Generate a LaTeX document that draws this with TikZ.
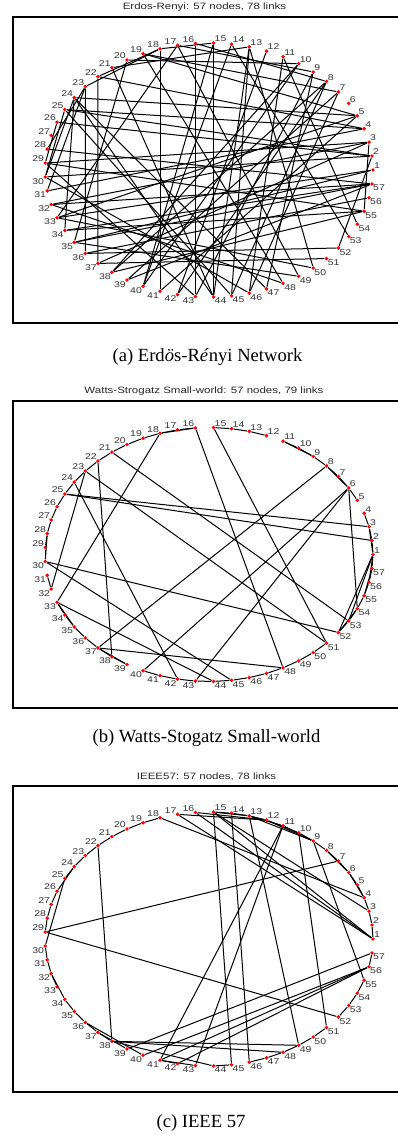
\documentclass[tikz,border=0pt]{standalone}
\usepackage{fontspec}
\setmainfont{Liberation Serif}
\newfontfamily\plotfont[FakeStretch=1.25]{Liberation Sans}
\usetikzlibrary{backgrounds}
\tikzset{
  dot/.style={circle,fill=red,inner sep=0pt,minimum size=3.9pt},
  num/.style={font=\plotfont\fontsize{8.4}{9}\selectfont,text=black!80,inner sep=1pt},
  link/.style={draw=black,line width=1pt},
  frame/.style={draw=black,line width=1.1pt},
  plottitle/.style={font=\plotfont\fontsize{9.2}{10}\selectfont,text=black!85},
  subcap/.style={font=\fontsize{18.6}{20}\selectfont},
}
\begin{document}
\begin{tikzpicture}[x=1pt,y=1pt]
  \useasboundingbox (0,0) rectangle (398,1135);
  % three rings of 57 buses
  \foreach \p/\cy in {a/965,b/580.5,c/196}{
    \foreach \k in {1,...,57}{
      \pgfmathsetmacro\ang{360/57*(\k-1)}
      \pgfmathtruncatemacro\q{2*(cos(\ang)<0)+(sin(\ang)<-0.01)}
      \ifcase\q\def\anc{south west}\or\def\anc{north west}\or\def\anc{south east}\else\def\anc{north east}\fi
      \node[dot] (\p\k) at ({209+164*cos(\ang)},{\cy+127*sin(\ang)}) {};
      \node[num,anchor=\anc] (\p n\k) at (\p\k.center) {\k};
    }
  }
  \begin{scope}[on background layer]
    % (a) random graph
    \foreach \u/\v in {18/41,16/43,14/53,11/46,7/46,20/10,23/36,22/37,24/34,17/49,9/47,37/51,36/52,24/5,25/4,
      18/23,18/22,18/15,21/13,22/4,16/8,17/9,19/48,15/44,13/45,12/42,10/40,8/38,7/39,5/33,4/31,3/29,2/30,
      1/35,57/32,57/28,25/2,55/34,55/38,54/11,55/29,50/33,49/35,48/32,45/25,44/24,42/8,41/5,40/14,39/57,
      38/10,35/57,33/1,31/23,30/24,29/26,28/23,19/5,26/2,25/30,32/3,34/57,36/56,37/3,21/44,20/35,19/7,2/52,
      3/55,8/45,9/43,13/44,13/50,15/40,17/33,43/29,46/30,47/24}
      \draw[link] (a\u) -- (a\v);
    % (b) small world
    \foreach \u/\v in {16/17,17/18,18/19,19/20,20/21,21/22,22/23,23/24,24/25,25/26,26/27,27/28,28/29,29/30,
      31/32,33/34,34/35,35/36,36/37,37/38,38/39,40/41,41/42,42/43,43/44,44/45,45/46,46/47,47/48,48/49,49/50,50/51,
      52/53,53/54,54/55,55/56,56/57,57/1,1/2,2/3,3/4,5/6,6/7,7/8,8/9,9/10,10/11,12/13,13/14,14/15,
      18/33,16/48,15/51,21/53,22/38,23/32,23/51,24/42,25/3,25/2,30/52,30/45,33/44,37/48,
      8/37,6/40,6/43,6/54,1/52,1/53,
      1/3,55/57,56/1,28/30,33/35,6/8,52/54,16/18,37/39,9/11}
      \draw[link] (b\u) -- (b\v);
    % (c) IEEE 57 bus system
    \foreach \u/\v in {1/2,2/3,3/4,4/5,4/6,6/7,6/8,8/9,9/10,9/11,9/12,9/13,13/14,13/15,1/15,1/16,1/17,3/15,4/18,
      5/6,7/8,10/12,11/13,12/13,12/16,12/17,14/15,18/19,19/20,20/21,21/22,22/23,23/24,24/25,24/26,26/27,27/28,
      28/29,7/29,25/30,30/31,31/32,32/33,32/34,34/35,35/36,36/37,37/38,37/39,36/40,22/38,11/41,41/42,41/43,
      38/44,15/45,14/46,46/47,47/48,48/49,49/50,50/51,10/51,13/49,29/52,52/53,53/54,54/55,11/43,44/45,40/56,
      41/56,42/56,39/57,56/57,38/49,38/48,9/55}
      \draw[link] (c\u) -- (c\v);
  \end{scope}
  % axes boxes (right side runs off the page)
  \draw[frame] (13,812) rectangle (402,1118);
  \draw[frame] (13,427) rectangle (402,734);
  \draw[frame] (13,43) rectangle (402,349);
  % titles and captions
  \node[plottitle] (ta) at (204.5,1128.3) {Erdos-Renyi: 57 nodes, 78 links};
  \node[plottitle] (tb) at (204,744) {Watts-Strogatz Small-world: 57 nodes, 79 links};
  \node[plottitle] (tc) at (206.5,358) {IEEE57: 57 nodes, 78 links};
  \node[subcap] (capa) at (207.5,778) {(a) Erd\textit{ö}s-R\textit{é}nyi Network};
  \node[subcap] (capb) at (206.5,397) {(b) Watts-Stogatz Small-world};
  \node[subcap] (capc) at (201,12) {(c) IEEE 57};
\end{tikzpicture}
\end{document}
